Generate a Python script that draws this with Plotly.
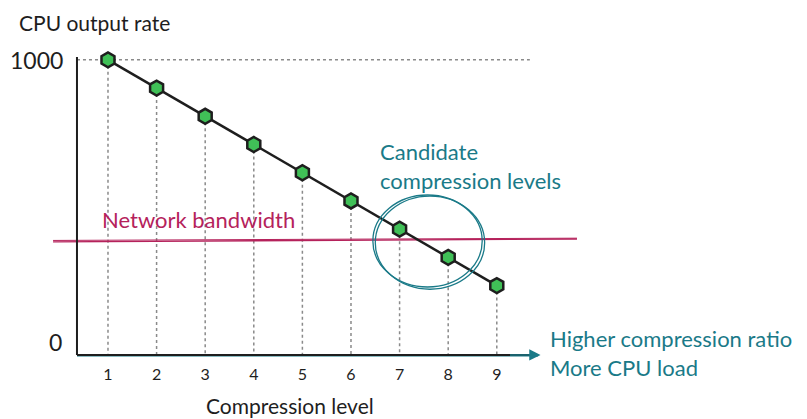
import plotly.graph_objects as go

levels = [1, 2, 3, 4, 5, 6, 7, 8, 9]
cpu_rate = [1000, 900, 800, 700, 600, 500, 400, 300, 200]
network_bw = [355, 365]  # sketched line, left / right end
tick_labels = ["1", "2", "3", "4", "5", "6", "7", "8", "9"]

BLACK = "#1e1e1e"
GREEN = "#40c057"
PINK = "#b5225b"
TEAL = "#1a7a88"
GRAY = "#8a8a8a"
FONT = "Lato"

XR = [-0.296, 10.815]   # plot x range
YR = [-63.8, 1035]      # plot y range
AX_X = 0.362            # where the y axis is drawn
AX_Y = -46              # where the x axis is drawn

fig = go.Figure()

# dotted drop lines from each point
dx, dy = [], []
for lv, v in zip(levels, cpu_rate):
    dx += [lv, lv, None]
    dy += [v, AX_Y, None]
fig.add_trace(go.Scatter(x=dx, y=dy, mode="lines",
                         line=dict(color=GRAY, width=1.5, dash="dot"),
                         hoverinfo="skip", showlegend=False))
# dotted line at max value
fig.add_trace(go.Scatter(x=[AX_X, 9.68], y=[max(cpu_rate)] * 2, mode="lines",
                         line=dict(color=GRAY, width=1.5, dash="dot"),
                         hoverinfo="skip", showlegend=False))
# network bandwidth line (doubled like a sketch)
fig.add_trace(go.Scatter(x=[-0.13, 10.65], y=network_bw, mode="lines",
                         line=dict(color=PINK, width=1.3), hoverinfo="skip",
                         showlegend=False))
fig.add_trace(go.Scatter(x=[-0.13, 10.65], y=[network_bw[0] + 5, network_bw[1] + 3], mode="lines",
                         line=dict(color=PINK, width=1), hoverinfo="skip",
                         showlegend=False))
# main series
fig.add_trace(go.Scatter(x=levels, y=cpu_rate, mode="lines+markers",
                         line=dict(color=BLACK, width=2.5),
                         marker=dict(symbol="hexagon", size=15, color=GREEN,
                                     line=dict(color=BLACK, width=2.5)),
                         showlegend=False))

shapes = []
# candidate circle (two strokes)
for dxo, dyo in ((0, 0), (0.05, -8)):
    shapes.append(dict(type="circle", xref="x", yref="y",
                       x0=6.45 + dxo, x1=8.70 + dxo, y0=195 + dyo, y1=521 + dyo / 2,
                       line=dict(color=TEAL, width=1.3)))
# axes
shapes.append(dict(type="line", xref="x", yref="y", x0=AX_X, x1=AX_X, y0=AX_Y, y1=1010,
                   line=dict(color=BLACK, width=2)))
shapes.append(dict(type="line", xref="x", yref="y", x0=AX_X, x1=9.85, y0=AX_Y - 3, y1=AX_Y - 3,
                   line=dict(color=TEAL, width=1.3)))
shapes.append(dict(type="line", xref="x", yref="y", x0=AX_X, x1=9.75, y0=AX_Y, y1=AX_Y,
                   line=dict(color=BLACK, width=2)))
fig.update_layout(shapes=shapes)

annotations = [
    dict(x=9.9, y=AX_Y, ax=-32, ay=0, xref="x", yref="y", text="", showarrow=True,
         arrowhead=2, arrowsize=1.5, arrowwidth=1.5, arrowcolor=TEAL),
    dict(x=0, y=1, xref="paper", yref="paper", text="CPU output rate", showarrow=False,
         xshift=-28, yshift=28, xanchor="left", yanchor="middle",
         font=dict(size=21, color=BLACK, family=FONT)),
    dict(x=AX_X, y=1000, xref="x", yref="y", text="1000", showarrow=False,
         xanchor="right", xshift=-12, font=dict(size=23, color=BLACK, family=FONT)),
    dict(x=AX_X, y=0, xref="x", yref="y", text="0", showarrow=False,
         xanchor="right", xshift=-13, font=dict(size=23, color=BLACK, family=FONT)),
    dict(x=0, y=0, xref="paper", yref="paper", text="Compression level", showarrow=False,
         xanchor="center", yanchor="middle", xshift=245, yshift=-45,
         font=dict(size=21, color=BLACK, family=FONT)),
    dict(x=6.56, y=624, xref="x", yref="y",
         text="Candidate<br>compression levels", showarrow=False, align="left",
         xanchor="left", yanchor="middle",
         font=dict(size=22, color=TEAL, family=FONT)),
    dict(x=0.835, y=433, xref="x", yref="y", text="Network bandwidth", showarrow=False,
         xanchor="left", yanchor="middle", font=dict(size=22, color=PINK, family=FONT)),
    dict(x=10.05, y=-39, xref="x", yref="y",
         text="Higher compression ratio<br>More CPU load", showarrow=False, align="left",
         xanchor="left", yanchor="middle",
         font=dict(size=22, color=TEAL, family=FONT)),
]
fig.update_layout(annotations=annotations)

fig.update_xaxes(range=XR, tickvals=levels, ticktext=tick_labels, showgrid=False,
                 zeroline=False, showline=False, ticks="", ticklabelstandoff=3,
                 tickfont=dict(size=16, color=BLACK, family=FONT))
fig.update_yaxes(range=YR, showticklabels=False, showgrid=False, zeroline=False,
                 showline=False, ticks="")

fig.update_layout(width=807, height=419, margin=dict(l=37, r=230, t=42, b=67),
                  paper_bgcolor="#ffffff", plot_bgcolor="#ffffff",
                  font=dict(family=FONT))

fig.write_html("out.html")
